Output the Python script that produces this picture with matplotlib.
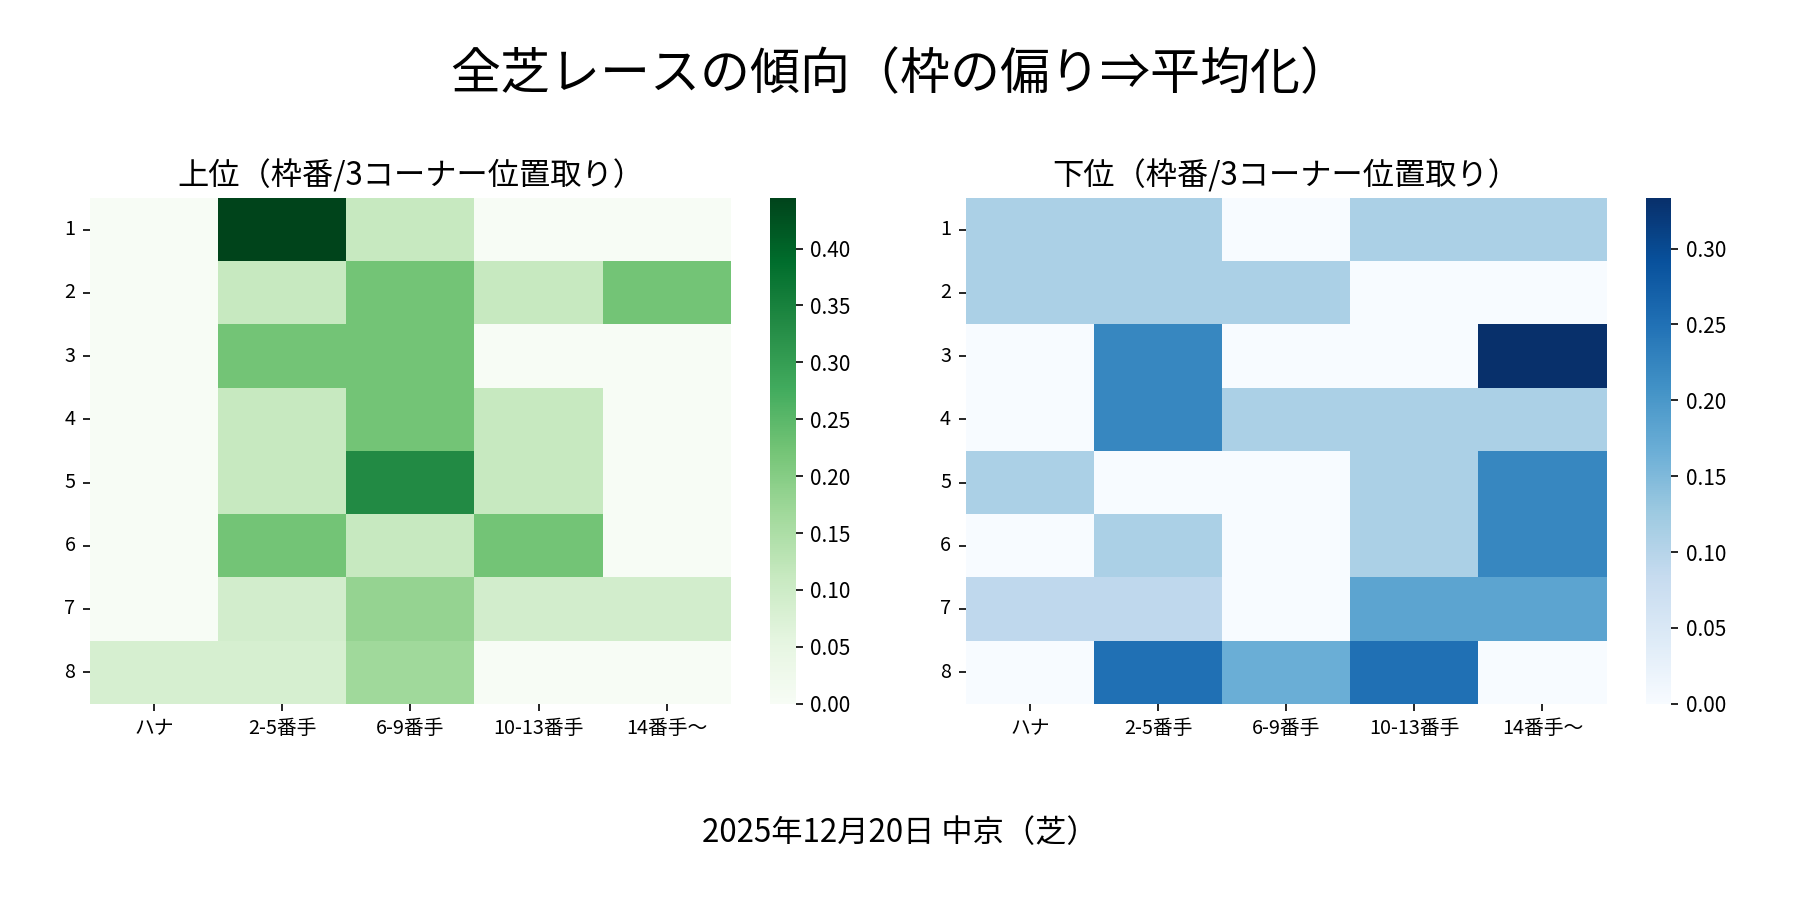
import numpy as np
import seaborn as sns
from matplotlib import pyplot as plt

plt.rcParams['font.family'] = ['Noto Sans CJK JP', 'DejaVu Sans']

main_title = '全芝レースの傾向（枠の偏り⇒平均化）'
footer = '2025年12月20日 中京（芝）'
upper_title = '上位（枠番/3コーナー位置取り）'
lower_title = '下位（枠番/3コーナー位置取り）'

gates = ['1', '2', '3', '4', '5', '6', '7', '8']
positions = ['ハナ', '2-5番手', '6-9番手', '10-13番手', '14番手～']

# 上位 share per gate / position
upper = np.array([
    [0, 4/9, 1/9, 0, 0],
    [0, 1/9, 2/9, 1/9, 2/9],
    [0, 2/9, 2/9, 0, 0],
    [0, 1/9, 2/9, 1/9, 0],
    [0, 1/9, 3/9, 1/9, 0],
    [0, 2/9, 1/9, 2/9, 0],
    [0, 1/11, 2/11, 1/11, 1/11],
    [1/12, 1/12, 2/12, 0, 0],
])

# 下位 share per gate / position
lower = np.array([
    [1/9, 1/9, 0, 1/9, 1/9],
    [1/9, 1/9, 1/9, 0, 0],
    [0, 2/9, 0, 0, 3/9],
    [0, 2/9, 1/9, 1/9, 1/9],
    [1/9, 0, 0, 1/9, 2/9],
    [0, 1/9, 0, 1/9, 2/9],
    [1/11, 1/11, 0, 2/11, 2/11],
    [0, 3/12, 2/12, 3/12, 0],
])

fig = plt.figure(figsize=(12, 6), dpi=150)

ax1 = fig.add_axes([0.050, 0.218, 0.356, 0.562])
cax1 = fig.add_axes([0.428, 0.218, 0.014, 0.562])
ax2 = fig.add_axes([0.540 - 0.0035, 0.218, 0.356, 0.562])
cax2 = fig.add_axes([0.918 - 0.0035, 0.218, 0.014, 0.562])

sns.heatmap(upper, ax=ax1, cbar_ax=cax1, cmap='Greens',
            xticklabels=positions, yticklabels=gates)
sns.heatmap(lower, ax=ax2, cbar_ax=cax2, cmap='Blues',
            xticklabels=positions, yticklabels=gates)

for ax, t in [(ax1, upper_title), (ax2, lower_title)]:
    ax.set_title(t, fontsize=15)
    ax.tick_params(axis='both', labelsize=9.5)
    plt.setp(ax.get_xticklabels(), rotation=0)
    plt.setp(ax.get_yticklabels(), rotation=0)
for cax in (cax1, cax2):
    cax.tick_params(labelsize=10)

fig.suptitle(main_title, fontsize=24, y=0.945)
fig.text(0.5, 0.074, footer, ha='center', va='center', fontsize=15)

plt.savefig('out.png', dpi=150)
plt.close()
